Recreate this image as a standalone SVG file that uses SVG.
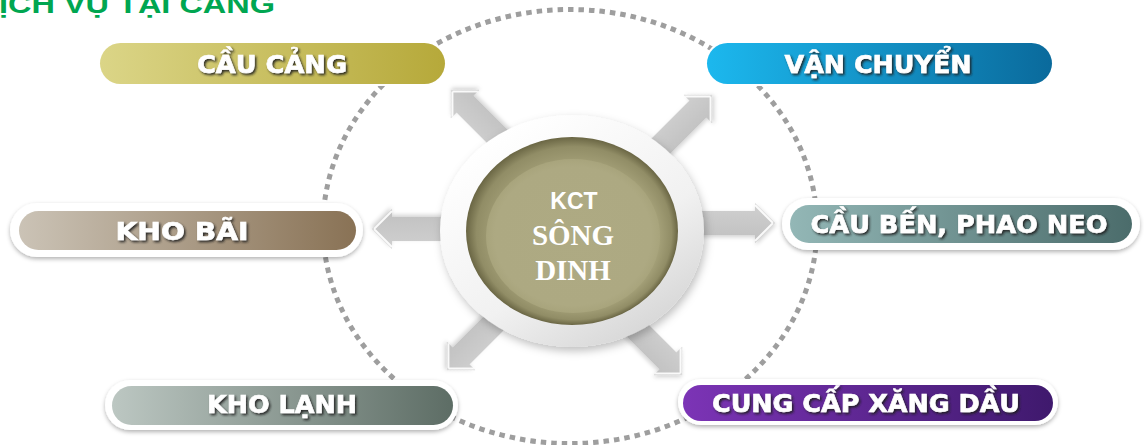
<svg xmlns="http://www.w3.org/2000/svg" width="1144" height="445" viewBox="0 0 1144 445">
<defs>
<style>
.lbl{font-family:"DejaVu Sans","Liberation Sans",sans-serif;font-weight:bold;font-size:25px;fill:#ffffff;stroke:#ffffff;stroke-width:0.6;text-anchor:middle;filter:url(#tshadow)}
.border{fill:#ffffff;filter:url(#pshadow)}
.arrow{fill:url(#arrowGrad);filter:url(#ashadow)}
.hl{fill:none;stroke:#ffffff;stroke-width:2;stroke-linejoin:miter;opacity:.9}
</style>
<filter id="tshadow" x="-10%" y="-30%" width="120%" height="160%">
<feDropShadow dx="1.6" dy="1.8" stdDeviation="0.8" flood-color="#1a1a1a" flood-opacity="0.9"/>
</filter>
<filter id="pshadow" x="-5%" y="-20%" width="110%" height="150%">
<feDropShadow dx="0" dy="2" stdDeviation="2" flood-color="#000" flood-opacity="0.3"/>
</filter>
<filter id="ashadow" x="-20%" y="-40%" width="140%" height="180%">
<feDropShadow dx="1" dy="2" stdDeviation="2" flood-color="#000" flood-opacity="0.18"/>
</filter>
<filter id="rshadow" x="-10%" y="-10%" width="120%" height="125%">
<feDropShadow dx="2" dy="4" stdDeviation="4" flood-color="#000" flood-opacity="0.25"/>
</filter>
<linearGradient id="arrowGrad" x1="0" y1="0" x2="0" y2="1">
<stop offset="0" stop-color="#d0d0d0"/>
<stop offset="1" stop-color="#c0c0c0"/>
</linearGradient>
<linearGradient id="gCang" x1="0" x2="1"><stop offset="0" stop-color="#dbd587"/><stop offset="1" stop-color="#b6a93a"/></linearGradient>
<linearGradient id="gVan" x1="0" x2="1"><stop offset="0" stop-color="#1cb8ee"/><stop offset="1" stop-color="#0a6a9c"/></linearGradient>
<linearGradient id="gBai" x1="0" x2="1"><stop offset="0" stop-color="#cbc3b6"/><stop offset="1" stop-color="#897255"/></linearGradient>
<linearGradient id="gBen" x1="0" x2="1"><stop offset="0" stop-color="#93b7b6"/><stop offset="1" stop-color="#4b6c6b"/></linearGradient>
<linearGradient id="gLanh" x1="0" x2="1"><stop offset="0" stop-color="#bcc7c2"/><stop offset="1" stop-color="#5d6d65"/></linearGradient>
<linearGradient id="gXang" x1="0" x2="1"><stop offset="0" stop-color="#7c34b6"/><stop offset="1" stop-color="#3f196d"/></linearGradient>
<linearGradient id="gRing" x1="0.2" y1="0.1" x2="0.8" y2="0.95">
<stop offset="0" stop-color="#ffffff"/><stop offset="0.6" stop-color="#f1f1f1"/><stop offset="1" stop-color="#d6d6d6"/>
</linearGradient>
<radialGradient id="gOlive" cx="0.5" cy="0.5" r="0.5" fx="0.62" fy="0.64">
<stop offset="0" stop-color="#aca880"/><stop offset="0.75" stop-color="#a6a27a"/><stop offset="0.92" stop-color="#918d66"/><stop offset="1" stop-color="#6a6644"/>
</radialGradient>
<radialGradient id="gInner" cx="0.5" cy="0.5" r="0.5">
<stop offset="0" stop-color="#aeaa83"/><stop offset="0.9" stop-color="#ada982"/><stop offset="1" stop-color="#a8a47c"/>
</radialGradient>
<path id="arr" d="M -110,-12 L -20,-12 L -20,-20 L 0,0 L -20,20 L -20,12 L -110,12 Z"/>
<path id="arrhl" d="M -20,-18 L -2,0 M -20,18 L -2,0"/>
</defs>

<rect width="1144" height="445" fill="#ffffff"/>

<g id="title">
<text x="-1" y="13" font-family="'Liberation Sans',Arial,sans-serif" font-weight="bold" font-size="26" fill="#00a651" textLength="276" lengthAdjust="spacingAndGlyphs">ỊCH VỤ TẠI CẢNG</text>
</g>

<g id="dotted-orbit">
<ellipse cx="570" cy="226.5" rx="247" ry="217" fill="none" stroke="#9e9e9e" stroke-width="5" stroke-dasharray="5.5 5"/>
</g>

<g id="connectors">
<g transform="translate(451,90) rotate(-135)"><use href="#arr" class="arrow"/><use href="#arrhl" class="hl"/></g>
<g transform="translate(712,95) rotate(-45)"><use href="#arr" class="arrow"/><use href="#arrhl" class="hl"/></g>
<g transform="translate(372,229) rotate(180)"><use href="#arr" class="arrow"/><use href="#arrhl" class="hl"/></g>
<g transform="translate(775,223)"><use href="#arr" class="arrow"/><use href="#arrhl" class="hl"/></g>
<g transform="translate(447,370) rotate(135)"><use href="#arr" class="arrow"/><use href="#arrhl" class="hl"/></g>
<g transform="translate(682,375) rotate(45)"><use href="#arr" class="arrow"/><use href="#arrhl" class="hl"/></g>
</g>

<g id="center-node">
<ellipse cx="572" cy="231" rx="132" ry="116" fill="url(#gRing)" filter="url(#rshadow)"/>
<ellipse cx="572" cy="231" rx="106" ry="94" fill="url(#gOlive)"/>
<ellipse cx="573" cy="236" rx="87" ry="77" fill="url(#gInner)"/>
<text x="574" y="209" font-family="'Liberation Sans',Arial,sans-serif" font-weight="bold" font-size="23" fill="#ffffff" text-anchor="middle">KCT</text>
<text x="573" y="245" font-family="'Liberation Serif','Times New Roman',serif" font-weight="bold" font-size="29" fill="#ffffff" text-anchor="middle">SÔNG</text>
<text x="573" y="280" font-family="'Liberation Serif','Times New Roman',serif" font-weight="bold" font-size="29" fill="#ffffff" text-anchor="middle">DINH</text>
</g>

<g id="node-cau-cang">
<rect x="98" y="41" width="349" height="45" rx="22.5" fill="#ffffff"/>
<rect x="100" y="43" width="345" height="41" rx="20.5" fill="url(#gCang)"/>
<text class="lbl" x="272" y="73" textLength="150" lengthAdjust="spacingAndGlyphs">CẦU CẢNG</text>
</g>

<g id="node-van-chuyen">
<rect x="705" y="41" width="349" height="45" rx="22.5" fill="#ffffff"/>
<rect x="707" y="43" width="345" height="41" rx="20.5" fill="url(#gVan)"/>
<text class="lbl" x="878" y="73" textLength="187" lengthAdjust="spacingAndGlyphs">VẬN CHUYỂN</text>
</g>

<g id="node-kho-bai">
<rect class="border" x="10" y="203" width="353" height="54" rx="27"/>
<rect x="19" y="211" width="337" height="39" rx="19.5" fill="url(#gBai)"/>
<text class="lbl" x="182" y="240" textLength="133" lengthAdjust="spacingAndGlyphs">KHO BÃI</text>
</g>

<g id="node-cau-ben">
<rect class="border" x="782" y="198" width="358" height="52" rx="26"/>
<rect x="790" y="205" width="342" height="38" rx="19" fill="url(#gBen)"/>
<text class="lbl" x="959" y="233" textLength="297" lengthAdjust="spacingAndGlyphs">CẦU BẾN, PHAO NEO</text>
</g>

<g id="node-kho-lanh">
<rect class="border" x="105" y="380" width="353" height="50" rx="25"/>
<rect x="112" y="386" width="341" height="39" rx="19.5" fill="url(#gLanh)"/>
<text class="lbl" x="282" y="413" textLength="150" lengthAdjust="spacingAndGlyphs">KHO LẠNH</text>
</g>

<g id="node-xang-dau">
<rect class="border" x="678" y="379" width="380" height="46" rx="23"/>
<rect x="683" y="385" width="370" height="36" rx="18" fill="url(#gXang)"/>
<text class="lbl" x="866" y="412" textLength="308" lengthAdjust="spacingAndGlyphs">CUNG CẤP XĂNG DẦU</text>
</g>
</svg>
